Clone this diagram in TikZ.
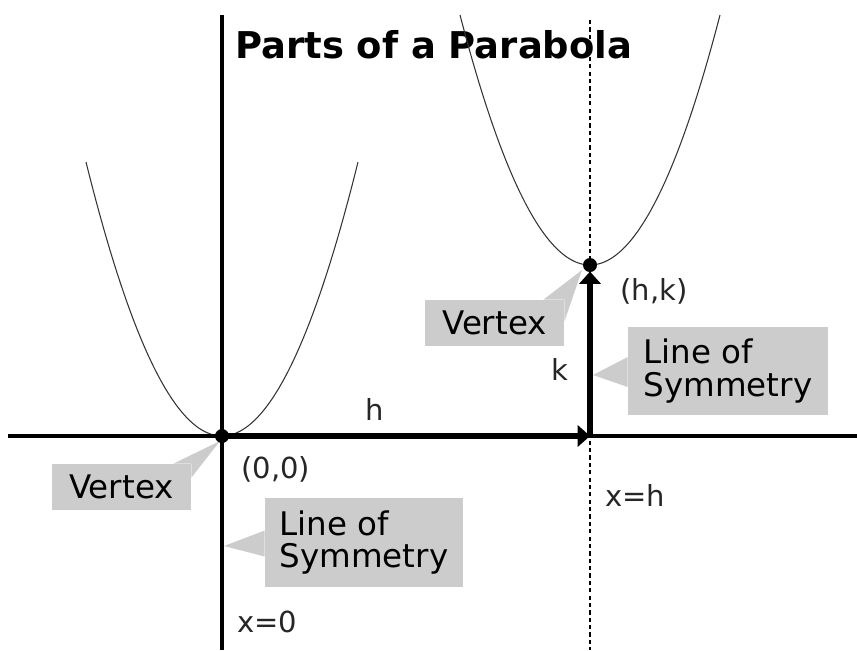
\documentclass[tikz,border=0pt]{standalone}
\usepackage{fontspec}
\setmainfont{DejaVu Sans}
\usetikzlibrary{arrows.meta,calc}
\definecolor{calloutgray}{RGB}{204,204,204}
\begin{document}
\begin{tikzpicture}[
        x=0.02cm, y=-0.02cm,
        every node/.style={font=\fontsize{16.5}{19}\selectfont, text=black!85},
        axis/.style={line width=2pt, black},
        symline/.style={line width=0.6pt, black, dash pattern=on 2.4pt off 1.8pt},
        curve/.style={line width=0.6pt, black!80},
        hkarrow/.style={-{Triangle[length=7pt,width=12pt]}, line width=3.6pt, black},
        callout/.style={rectangle, fill=calloutgray, inner sep=0pt,
            align=left, text=black,
            font=\fontsize{18.5}{18.5}\selectfont},
        tail/.style={fill=calloutgray},
        vdot/.style={circle, fill=black, inner sep=0pt, minimum size=0.28cm},
        titletext/.style={font=\fontsize{21}{24}\selectfont\bfseries, text=black,
            inner sep=0pt, anchor=base west},
        tag/.style={inner sep=0pt, anchor=base west}
      ]
      \useasboundingbox (0,0) rectangle (857,650);
      % points on the axes
      \coordinate (O)    at (222,436);
      \coordinate (V)    at (590,265);
      \coordinate (F)    at (590,436);
      \coordinate (yTop) at (222,15);
      \coordinate (yBot) at (222,650);
      \coordinate (xL)   at (8,436);
      \coordinate (xR)   at (857,436);
      \coordinate (sTop) at (590,20);
      \coordinate (sBot) at (590,650);
      % title
      \node[titletext] (title) at (235,58) {Parts of a Parabola};
      % the two parabolas
      \draw[curve] plot[domain=-1:1, samples=80] ({222+136*\x},{436-274*\x*\x});
      \draw[curve] plot[domain=-1:1, samples=80] ({590+130*\x},{265-250*\x*\x});
      % axes and line of symmetry x=h
      \draw[symline] (sTop) -- (sBot);
      \draw[axis] (xL) -- (xR);
      \draw[axis] (yTop) -- (yBot);
      % h and k
      \draw[hkarrow] (O) -- (F);
      \draw[hkarrow, shorten >=0.13cm] (F) -- (V);
      % labels
      \node[tag] (lblOrigin) at (241,478) {(0,0)};
      \node[tag, anchor=base] (lblH) at (375,420) {h};
      \node[tag, anchor=base] (lblK) at (560,380) {k};
      \node[tag] (lblHK) at (620,300) {(h,k)};
      \node[tag] (lblXh) at (605,506) {x=h};
      \node[tag] (lblX0) at (237,632) {x=0};
      % callouts
      \node[callout, minimum width=2.78cm, minimum height=0.92cm]
      (vtxL) at (121.5,487) {Vertex};
      \node[callout, minimum width=2.78cm, minimum height=0.92cm]
      (vtxR) at (494.5,323) {Vertex};
      \node[callout, minimum width=3.96cm, minimum height=1.78cm]
      (symL) at (364,542.5) {Line of\\Symmetry};
      \node[callout, minimum width=4.0cm, minimum height=1.76cm]
      (symR) at (728,371) {Line of\\Symmetry};
      \fill[tail] ($(vtxL.north east)+(-18,0)$) -- ($(O)+(-2,5)$)
          -- ($(vtxL.north east)+(0,14)$) -- (vtxL.north east) -- cycle;
      \fill[tail] ($(vtxR.north east)+(-21,0)$) -- ($(V)+(-8,5)$)
          -- ($(vtxR.north east)+(0,22)$) -- (vtxR.north east) -- cycle;
      \fill[tail] ($(symL.west)+(0,-12)$) -- ($(O)+(2,110)$)
          -- ($(symL.west)+(0,14)$) -- cycle;
      \fill[tail] ($(symR.west)+(0,-14)$) -- ($(F)+(3,-61)$)
          -- ($(symR.west)+(0,16)$) -- cycle;
      % vertices
      \node[vdot] (dotO) at (O) {};
      \node[vdot] (dotV) at (V) {};
    \end{tikzpicture}
\end{document}
